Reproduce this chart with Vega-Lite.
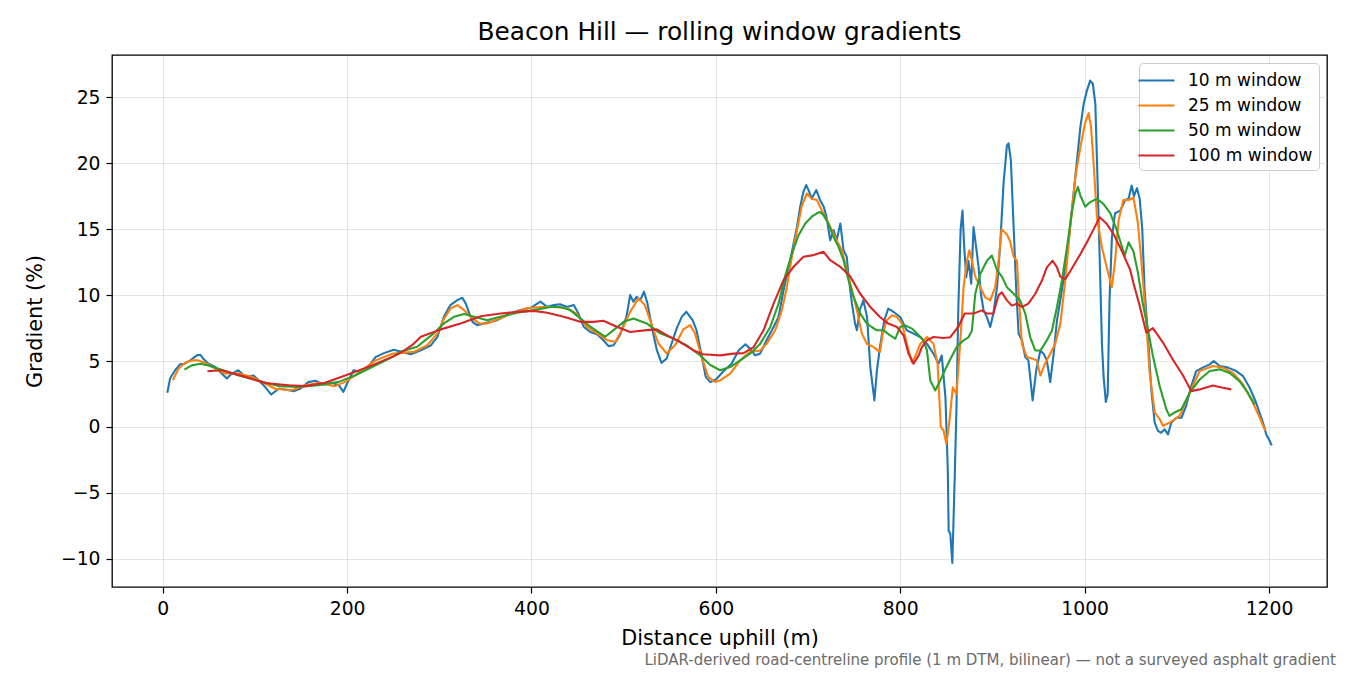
{
  "$schema": "https://vega.github.io/schema/vega-lite/v6.json",
  "width": 1215,
  "height": 532,
  "autosize": {"type": "none"},
  "padding": {"left": 112, "top": 55, "right": 23, "bottom": 88},
  "background": "white",
  "title": {
    "text": "Beacon Hill — rolling window gradients",
    "fontSize": 24.8,
    "fontWeight": "normal",
    "font": "DejaVu Sans",
    "color": "black",
    "anchor": "middle",
    "offset": 10
  },
  "config": {
    "font": "DejaVu Sans",
    "view": {"stroke": "black", "strokeWidth": 1.3},
    "axis": {
      "domain": false,
      "grid": true,
      "gridColor": "#b0b0b0",
      "gridOpacity": 0.33,
      "gridWidth": 1,
      "tickColor": "black",
      "tickSize": 6,
      "tickWidth": 1.2,
      "labelFont": "DejaVu Sans",
      "labelFontSize": 18.75,
      "labelColor": "black",
      "labelPadding": 6,
      "titleFont": "DejaVu Sans",
      "titleFontSize": 20.8,
      "titleFontWeight": "normal",
      "titleColor": "black"
    },
    "legend": {
      "labelFont": "DejaVu Sans",
      "labelFontSize": 17,
      "labelColor": "black",
      "labelLimit": 400
    }
  },
  "datasets": {
    "profiles": [
      {"d":5,"g":2.6,"w":"10 m window"},{"d":8,"g":3.67,"w":"10 m window"},{"d":13.4,"g":4.3,"w":"10 m window"},{"d":18.8,"g":4.75,"w":"10 m window"},{"d":24,"g":4.8,"w":"10 m window"},{"d":30,"g":5.05,"w":"10 m window"},{"d":37,"g":5.43,"w":"10 m window"},{"d":40.6,"g":5.48,"w":"10 m window"},{"d":44,"g":5.18,"w":"10 m window"},{"d":49.6,"g":4.8,"w":"10 m window"},{"d":57,"g":4.55,"w":"10 m window"},{"d":64,"g":4.05,"w":"10 m window"},{"d":69.6,"g":3.67,"w":"10 m window"},{"d":75,"g":4.05,"w":"10 m window"},{"d":82,"g":4.3,"w":"10 m window"},{"d":89.5,"g":3.8,"w":"10 m window"},{"d":98.5,"g":3.9,"w":"10 m window"},{"d":104,"g":3.54,"w":"10 m window"},{"d":111,"g":3.04,"w":"10 m window"},{"d":117.7,"g":2.46,"w":"10 m window"},{"d":125.7,"g":2.9,"w":"10 m window"},{"d":133,"g":2.84,"w":"10 m window"},{"d":142,"g":2.71,"w":"10 m window"},{"d":149,"g":2.9,"w":"10 m window"},{"d":158,"g":3.4,"w":"10 m window"},{"d":165.6,"g":3.5,"w":"10 m window"},{"d":174.6,"g":3.2,"w":"10 m window"},{"d":183.7,"g":3.35,"w":"10 m window"},{"d":191,"g":3.17,"w":"10 m window"},{"d":196,"g":2.66,"w":"10 m window"},{"d":200,"g":3.3,"w":"10 m window"},{"d":207,"g":4.3,"w":"10 m window"},{"d":214.5,"g":4.17,"w":"10 m window"},{"d":221.7,"g":4.42,"w":"10 m window"},{"d":230.8,"g":5.3,"w":"10 m window"},{"d":240,"g":5.6,"w":"10 m window"},{"d":250.7,"g":5.85,"w":"10 m window"},{"d":260,"g":5.68,"w":"10 m window"},{"d":269,"g":5.52,"w":"10 m window"},{"d":280,"g":5.82,"w":"10 m window"},{"d":291,"g":6.2,"w":"10 m window"},{"d":298,"g":6.84,"w":"10 m window"},{"d":305,"g":8.35,"w":"10 m window"},{"d":312,"g":9.24,"w":"10 m window"},{"d":319.6,"g":9.62,"w":"10 m window"},{"d":325,"g":9.8,"w":"10 m window"},{"d":328.6,"g":9.37,"w":"10 m window"},{"d":332,"g":8.73,"w":"10 m window"},{"d":336,"g":7.97,"w":"10 m window"},{"d":341,"g":7.72,"w":"10 m window"},{"d":348.5,"g":7.85,"w":"10 m window"},{"d":355.7,"g":7.97,"w":"10 m window"},{"d":363,"g":8.1,"w":"10 m window"},{"d":370,"g":8.35,"w":"10 m window"},{"d":377,"g":8.6,"w":"10 m window"},{"d":388,"g":8.86,"w":"10 m window"},{"d":400,"g":9.06,"w":"10 m window"},{"d":409.7,"g":9.5,"w":"10 m window"},{"d":417,"g":9.1,"w":"10 m window"},{"d":424,"g":9.24,"w":"10 m window"},{"d":431,"g":9.3,"w":"10 m window"},{"d":438.6,"g":9.1,"w":"10 m window"},{"d":445.8,"g":9.24,"w":"10 m window"},{"d":451,"g":8.6,"w":"10 m window"},{"d":456.6,"g":7.6,"w":"10 m window"},{"d":463.8,"g":7.2,"w":"10 m window"},{"d":471,"g":7.04,"w":"10 m window"},{"d":478,"g":6.58,"w":"10 m window"},{"d":483.6,"g":6.13,"w":"10 m window"},{"d":489,"g":6.2,"w":"10 m window"},{"d":496,"g":6.96,"w":"10 m window"},{"d":503,"g":8.35,"w":"10 m window"},{"d":507,"g":10,"w":"10 m window"},{"d":510.6,"g":9.5,"w":"10 m window"},{"d":514,"g":9.87,"w":"10 m window"},{"d":518,"g":9.62,"w":"10 m window"},{"d":522,"g":10.25,"w":"10 m window"},{"d":525.8,"g":9.37,"w":"10 m window"},{"d":530.5,"g":7.6,"w":"10 m window"},{"d":536,"g":5.82,"w":"10 m window"},{"d":541,"g":4.86,"w":"10 m window"},{"d":546.7,"g":5.19,"w":"10 m window"},{"d":552,"g":6.33,"w":"10 m window"},{"d":557.5,"g":7.47,"w":"10 m window"},{"d":563,"g":8.35,"w":"10 m window"},{"d":568,"g":8.73,"w":"10 m window"},{"d":574.8,"g":8.1,"w":"10 m window"},{"d":579,"g":7.34,"w":"10 m window"},{"d":584.5,"g":5.44,"w":"10 m window"},{"d":589,"g":3.8,"w":"10 m window"},{"d":594,"g":3.4,"w":"10 m window"},{"d":600,"g":3.6,"w":"10 m window"},{"d":608,"g":4.2,"w":"10 m window"},{"d":617,"g":4.8,"w":"10 m window"},{"d":624.6,"g":5.8,"w":"10 m window"},{"d":632,"g":6.27,"w":"10 m window"},{"d":637,"g":5.94,"w":"10 m window"},{"d":642.7,"g":5.43,"w":"10 m window"},{"d":648,"g":5.56,"w":"10 m window"},{"d":655,"g":6.57,"w":"10 m window"},{"d":662.6,"g":7.58,"w":"10 m window"},{"d":668,"g":8.34,"w":"10 m window"},{"d":673.4,"g":10.37,"w":"10 m window"},{"d":680.7,"g":12.65,"w":"10 m window"},{"d":688,"g":15.18,"w":"10 m window"},{"d":691.5,"g":16.7,"w":"10 m window"},{"d":695,"g":17.84,"w":"10 m window"},{"d":698,"g":18.34,"w":"10 m window"},{"d":700.5,"g":17.96,"w":"10 m window"},{"d":704,"g":17.33,"w":"10 m window"},{"d":709,"g":17.96,"w":"10 m window"},{"d":713,"g":17.2,"w":"10 m window"},{"d":717,"g":16.7,"w":"10 m window"},{"d":720,"g":15.94,"w":"10 m window"},{"d":724,"g":14.16,"w":"10 m window"},{"d":727.7,"g":14.92,"w":"10 m window"},{"d":731,"g":14.16,"w":"10 m window"},{"d":735,"g":15.43,"w":"10 m window"},{"d":738.5,"g":13.4,"w":"10 m window"},{"d":742,"g":12.9,"w":"10 m window"},{"d":744,"g":11.4,"w":"10 m window"},{"d":747.6,"g":9.35,"w":"10 m window"},{"d":751,"g":7.84,"w":"10 m window"},{"d":753,"g":7.33,"w":"10 m window"},{"d":756,"g":8.85,"w":"10 m window"},{"d":760,"g":9.6,"w":"10 m window"},{"d":764,"g":8.34,"w":"10 m window"},{"d":767.5,"g":4.54,"w":"10 m window"},{"d":772,"g":2.01,"w":"10 m window"},{"d":774.7,"g":4.3,"w":"10 m window"},{"d":778,"g":6.06,"w":"10 m window"},{"d":782.7,"g":8.09,"w":"10 m window"},{"d":787,"g":8.97,"w":"10 m window"},{"d":792.8,"g":8.72,"w":"10 m window"},{"d":800,"g":8.34,"w":"10 m window"},{"d":807,"g":7.33,"w":"10 m window"},{"d":814.5,"g":7.08,"w":"10 m window"},{"d":821.7,"g":6.82,"w":"10 m window"},{"d":829,"g":6.3,"w":"10 m window"},{"d":836,"g":5.56,"w":"10 m window"},{"d":841.6,"g":4.8,"w":"10 m window"},{"d":845,"g":5.43,"w":"10 m window"},{"d":849,"g":2.27,"w":"10 m window"},{"d":851.6,"g":-3.3,"w":"10 m window"},{"d":852.5,"g":-7.86,"w":"10 m window"},{"d":854.3,"g":-8.1,"w":"10 m window"},{"d":856.5,"g":-10.3,"w":"10 m window"},{"d":859,"g":-4,"w":"10 m window"},{"d":861,"g":1.5,"w":"10 m window"},{"d":863,"g":9,"w":"10 m window"},{"d":865.5,"g":15,"w":"10 m window"},{"d":867.5,"g":16.4,"w":"10 m window"},{"d":869.4,"g":13.6,"w":"10 m window"},{"d":871.6,"g":11.36,"w":"10 m window"},{"d":874,"g":12.6,"w":"10 m window"},{"d":877,"g":10.86,"w":"10 m window"},{"d":879.5,"g":15.15,"w":"10 m window"},{"d":882.4,"g":13.6,"w":"10 m window"},{"d":885,"g":12.1,"w":"10 m window"},{"d":887.5,"g":10.1,"w":"10 m window"},{"d":890.4,"g":8.84,"w":"10 m window"},{"d":894,"g":8.33,"w":"10 m window"},{"d":897.6,"g":7.58,"w":"10 m window"},{"d":901,"g":8.6,"w":"10 m window"},{"d":905,"g":10.6,"w":"10 m window"},{"d":908.5,"g":13.9,"w":"10 m window"},{"d":912,"g":18.43,"w":"10 m window"},{"d":915.7,"g":21.34,"w":"10 m window"},{"d":917.5,"g":21.5,"w":"10 m window"},{"d":920,"g":20.2,"w":"10 m window"},{"d":923,"g":15.15,"w":"10 m window"},{"d":926,"g":10.1,"w":"10 m window"},{"d":928.4,"g":7.07,"w":"10 m window"},{"d":932,"g":6.57,"w":"10 m window"},{"d":935.6,"g":5.3,"w":"10 m window"},{"d":939,"g":5.05,"w":"10 m window"},{"d":943.6,"g":2.02,"w":"10 m window"},{"d":947.5,"g":4.3,"w":"10 m window"},{"d":952,"g":5.8,"w":"10 m window"},{"d":955.5,"g":5.56,"w":"10 m window"},{"d":959,"g":5.05,"w":"10 m window"},{"d":962.7,"g":3.4,"w":"10 m window"},{"d":966.4,"g":5.56,"w":"10 m window"},{"d":970,"g":8.08,"w":"10 m window"},{"d":973.6,"g":9.6,"w":"10 m window"},{"d":977,"g":11.1,"w":"10 m window"},{"d":982.6,"g":14.1,"w":"10 m window"},{"d":988,"g":17.7,"w":"10 m window"},{"d":991.7,"g":20.2,"w":"10 m window"},{"d":995.3,"g":22.7,"w":"10 m window"},{"d":999,"g":24.5,"w":"10 m window"},{"d":1002.5,"g":25.5,"w":"10 m window"},{"d":1006,"g":26.26,"w":"10 m window"},{"d":1009,"g":26,"w":"10 m window"},{"d":1011.6,"g":24.5,"w":"10 m window"},{"d":1013.4,"g":20.2,"w":"10 m window"},{"d":1016,"g":13.64,"w":"10 m window"},{"d":1018.8,"g":6.3,"w":"10 m window"},{"d":1020.6,"g":3.8,"w":"10 m window"},{"d":1023,"g":1.9,"w":"10 m window"},{"d":1025,"g":2.5,"w":"10 m window"},{"d":1027,"g":9.6,"w":"10 m window"},{"d":1029.6,"g":14.4,"w":"10 m window"},{"d":1033,"g":16.2,"w":"10 m window"},{"d":1038.7,"g":16.4,"w":"10 m window"},{"d":1044,"g":17.2,"w":"10 m window"},{"d":1047.7,"g":17.3,"w":"10 m window"},{"d":1051,"g":18.3,"w":"10 m window"},{"d":1053.5,"g":17.5,"w":"10 m window"},{"d":1056.8,"g":18.1,"w":"10 m window"},{"d":1059.7,"g":17.3,"w":"10 m window"},{"d":1062.5,"g":15,"w":"10 m window"},{"d":1065,"g":10.45,"w":"10 m window"},{"d":1068.7,"g":6.9,"w":"10 m window"},{"d":1072.3,"g":2.85,"w":"10 m window"},{"d":1076,"g":0.32,"w":"10 m window"},{"d":1079.6,"g":-0.3,"w":"10 m window"},{"d":1083,"g":-0.44,"w":"10 m window"},{"d":1086.8,"g":-0.18,"w":"10 m window"},{"d":1090.4,"g":-0.56,"w":"10 m window"},{"d":1094,"g":0.32,"w":"10 m window"},{"d":1099.5,"g":0.7,"w":"10 m window"},{"d":1105,"g":0.7,"w":"10 m window"},{"d":1110,"g":1.58,"w":"10 m window"},{"d":1115.7,"g":3.1,"w":"10 m window"},{"d":1121,"g":4.24,"w":"10 m window"},{"d":1128,"g":4.5,"w":"10 m window"},{"d":1135.6,"g":4.75,"w":"10 m window"},{"d":1140,"g":5,"w":"10 m window"},{"d":1146.5,"g":4.62,"w":"10 m window"},{"d":1155.5,"g":4.5,"w":"10 m window"},{"d":1164.5,"g":4.24,"w":"10 m window"},{"d":1171.8,"g":3.86,"w":"10 m window"},{"d":1179,"g":2.98,"w":"10 m window"},{"d":1186,"g":1.84,"w":"10 m window"},{"d":1193.5,"g":0.32,"w":"10 m window"},{"d":1197,"g":-0.56,"w":"10 m window"},{"d":1200,"g":-0.95,"w":"10 m window"},{"d":1203,"g":-1.4,"w":"10 m window"},
      {"d":11,"g":3.54,"w":"25 m window"},{"d":17,"g":4.42,"w":"25 m window"},{"d":24,"g":4.85,"w":"25 m window"},{"d":31.5,"g":5.05,"w":"25 m window"},{"d":38.8,"g":5.05,"w":"25 m window"},{"d":47.8,"g":4.8,"w":"25 m window"},{"d":57,"g":4.42,"w":"25 m window"},{"d":67.7,"g":4.05,"w":"25 m window"},{"d":82,"g":4.05,"w":"25 m window"},{"d":96.7,"g":3.8,"w":"25 m window"},{"d":111,"g":3.3,"w":"25 m window"},{"d":122,"g":2.9,"w":"25 m window"},{"d":140,"g":2.79,"w":"25 m window"},{"d":154.7,"g":3.17,"w":"25 m window"},{"d":169,"g":3.34,"w":"25 m window"},{"d":187,"g":3.1,"w":"25 m window"},{"d":198,"g":3.42,"w":"25 m window"},{"d":212.7,"g":4.1,"w":"25 m window"},{"d":230.8,"g":5.05,"w":"25 m window"},{"d":249,"g":5.55,"w":"25 m window"},{"d":258,"g":5.62,"w":"25 m window"},{"d":272.8,"g":5.7,"w":"25 m window"},{"d":287,"g":6.2,"w":"25 m window"},{"d":298,"g":7.1,"w":"25 m window"},{"d":305,"g":8.2,"w":"25 m window"},{"d":312.5,"g":9,"w":"25 m window"},{"d":319.6,"g":9.24,"w":"25 m window"},{"d":327,"g":8.86,"w":"25 m window"},{"d":334,"g":8.35,"w":"25 m window"},{"d":343,"g":7.85,"w":"25 m window"},{"d":352,"g":7.85,"w":"25 m window"},{"d":363,"g":8.15,"w":"25 m window"},{"d":377,"g":8.56,"w":"25 m window"},{"d":395,"g":9,"w":"25 m window"},{"d":409.7,"g":9.1,"w":"25 m window"},{"d":424,"g":9.1,"w":"25 m window"},{"d":438.6,"g":9,"w":"25 m window"},{"d":449,"g":8.6,"w":"25 m window"},{"d":460,"g":7.6,"w":"25 m window"},{"d":471,"g":7.1,"w":"25 m window"},{"d":482,"g":6.58,"w":"25 m window"},{"d":491,"g":6.46,"w":"25 m window"},{"d":498,"g":7.34,"w":"25 m window"},{"d":507,"g":8.73,"w":"25 m window"},{"d":516,"g":9.75,"w":"25 m window"},{"d":523,"g":9.24,"w":"25 m window"},{"d":530.5,"g":7.72,"w":"25 m window"},{"d":537.7,"g":6.33,"w":"25 m window"},{"d":546.7,"g":5.57,"w":"25 m window"},{"d":555.7,"g":6.2,"w":"25 m window"},{"d":564.7,"g":7.4,"w":"25 m window"},{"d":572,"g":7.72,"w":"25 m window"},{"d":577.3,"g":7.1,"w":"25 m window"},{"d":584.5,"g":5.32,"w":"25 m window"},{"d":591.7,"g":3.8,"w":"25 m window"},{"d":599,"g":3.42,"w":"25 m window"},{"d":604.7,"g":3.53,"w":"25 m window"},{"d":615.5,"g":4.04,"w":"25 m window"},{"d":626.4,"g":5.05,"w":"25 m window"},{"d":637,"g":5.7,"w":"25 m window"},{"d":648,"g":5.8,"w":"25 m window"},{"d":655,"g":6.3,"w":"25 m window"},{"d":664.4,"g":7.33,"w":"25 m window"},{"d":671.6,"g":8.85,"w":"25 m window"},{"d":677,"g":10.6,"w":"25 m window"},{"d":682.5,"g":12.9,"w":"25 m window"},{"d":688,"g":14.9,"w":"25 m window"},{"d":693,"g":16.7,"w":"25 m window"},{"d":698.7,"g":17.7,"w":"25 m window"},{"d":704,"g":17.3,"w":"25 m window"},{"d":709.6,"g":17.2,"w":"25 m window"},{"d":715,"g":16.4,"w":"25 m window"},{"d":720.4,"g":15.7,"w":"25 m window"},{"d":726,"g":14.9,"w":"25 m window"},{"d":731,"g":14.16,"w":"25 m window"},{"d":736.7,"g":13.4,"w":"25 m window"},{"d":742,"g":11.9,"w":"25 m window"},{"d":747.6,"g":10.4,"w":"25 m window"},{"d":753,"g":8.85,"w":"25 m window"},{"d":758.4,"g":7.08,"w":"25 m window"},{"d":763.8,"g":6.3,"w":"25 m window"},{"d":771,"g":6.06,"w":"25 m window"},{"d":778,"g":5.7,"w":"25 m window"},{"d":781,"g":7.08,"w":"25 m window"},{"d":785.5,"g":8.1,"w":"25 m window"},{"d":791,"g":8.47,"w":"25 m window"},{"d":796.4,"g":8.34,"w":"25 m window"},{"d":801.8,"g":7.84,"w":"25 m window"},{"d":805.5,"g":6.82,"w":"25 m window"},{"d":809,"g":5.8,"w":"25 m window"},{"d":812.7,"g":4.9,"w":"25 m window"},{"d":816,"g":5.3,"w":"25 m window"},{"d":821.7,"g":6.3,"w":"25 m window"},{"d":829,"g":6.82,"w":"25 m window"},{"d":836,"g":6.3,"w":"25 m window"},{"d":840.5,"g":4.8,"w":"25 m window"},{"d":844,"g":0,"w":"25 m window"},{"d":847,"g":-0.27,"w":"25 m window"},{"d":850,"g":-1.28,"w":"25 m window"},{"d":853,"g":0.2,"w":"25 m window"},{"d":857,"g":3,"w":"25 m window"},{"d":861,"g":2.5,"w":"25 m window"},{"d":865,"g":6.3,"w":"25 m window"},{"d":868.7,"g":10.6,"w":"25 m window"},{"d":872.3,"g":12.6,"w":"25 m window"},{"d":875,"g":13.4,"w":"25 m window"},{"d":877.7,"g":12.6,"w":"25 m window"},{"d":881.4,"g":11.4,"w":"25 m window"},{"d":886.8,"g":10.6,"w":"25 m window"},{"d":892,"g":9.85,"w":"25 m window"},{"d":897.6,"g":9.6,"w":"25 m window"},{"d":903,"g":10.6,"w":"25 m window"},{"d":906.7,"g":12.6,"w":"25 m window"},{"d":910,"g":15,"w":"25 m window"},{"d":915.7,"g":14.6,"w":"25 m window"},{"d":919,"g":14.1,"w":"25 m window"},{"d":923,"g":12.9,"w":"25 m window"},{"d":926.6,"g":12.6,"w":"25 m window"},{"d":928.4,"g":10.1,"w":"25 m window"},{"d":932,"g":6.3,"w":"25 m window"},{"d":937.4,"g":5.3,"w":"25 m window"},{"d":943,"g":5.2,"w":"25 m window"},{"d":948,"g":5.05,"w":"25 m window"},{"d":952,"g":3.9,"w":"25 m window"},{"d":957,"g":4.8,"w":"25 m window"},{"d":962.7,"g":5.56,"w":"25 m window"},{"d":968,"g":6.3,"w":"25 m window"},{"d":973.6,"g":7.8,"w":"25 m window"},{"d":979,"g":11.1,"w":"25 m window"},{"d":984.4,"g":15.15,"w":"25 m window"},{"d":989.9,"g":18.9,"w":"25 m window"},{"d":995.3,"g":21.2,"w":"25 m window"},{"d":1000.7,"g":23.1,"w":"25 m window"},{"d":1004.3,"g":23.8,"w":"25 m window"},{"d":1007,"g":22.7,"w":"25 m window"},{"d":1009.8,"g":19.9,"w":"25 m window"},{"d":1013.4,"g":15.9,"w":"25 m window"},{"d":1018.8,"g":13.6,"w":"25 m window"},{"d":1024,"g":12.1,"w":"25 m window"},{"d":1029.6,"g":10.6,"w":"25 m window"},{"d":1033,"g":12.6,"w":"25 m window"},{"d":1036.9,"g":15.7,"w":"25 m window"},{"d":1042,"g":17.2,"w":"25 m window"},{"d":1047.7,"g":17.2,"w":"25 m window"},{"d":1053,"g":17.4,"w":"25 m window"},{"d":1057.7,"g":15.5,"w":"25 m window"},{"d":1061,"g":13,"w":"25 m window"},{"d":1066.9,"g":7.9,"w":"25 m window"},{"d":1070.5,"g":4.1,"w":"25 m window"},{"d":1076,"g":1.1,"w":"25 m window"},{"d":1081.4,"g":0.6,"w":"25 m window"},{"d":1085,"g":0.1,"w":"25 m window"},{"d":1092,"g":0.32,"w":"25 m window"},{"d":1103,"g":0.84,"w":"25 m window"},{"d":1114,"g":2.6,"w":"25 m window"},{"d":1124.8,"g":4.24,"w":"25 m window"},{"d":1139,"g":4.62,"w":"25 m window"},{"d":1150,"g":4.5,"w":"25 m window"},{"d":1161,"g":4.1,"w":"25 m window"},{"d":1172,"g":3.23,"w":"25 m window"},{"d":1182.6,"g":1.84,"w":"25 m window"},{"d":1190,"g":0.7,"w":"25 m window"},{"d":1196,"g":-0.3,"w":"25 m window"},
      {"d":23.5,"g":4.35,"w":"50 m window"},{"d":31.5,"g":4.67,"w":"50 m window"},{"d":40.6,"g":4.8,"w":"50 m window"},{"d":49.6,"g":4.67,"w":"50 m window"},{"d":60.5,"g":4.42,"w":"50 m window"},{"d":82,"g":3.92,"w":"50 m window"},{"d":104,"g":3.5,"w":"50 m window"},{"d":125.7,"g":3.1,"w":"50 m window"},{"d":147.5,"g":3.04,"w":"50 m window"},{"d":169,"g":3.17,"w":"50 m window"},{"d":191,"g":3.42,"w":"50 m window"},{"d":209,"g":3.92,"w":"50 m window"},{"d":227,"g":4.55,"w":"50 m window"},{"d":249,"g":5.3,"w":"50 m window"},{"d":258,"g":5.7,"w":"50 m window"},{"d":276,"g":6.08,"w":"50 m window"},{"d":294,"g":7.1,"w":"50 m window"},{"d":305,"g":7.85,"w":"50 m window"},{"d":316,"g":8.35,"w":"50 m window"},{"d":327,"g":8.56,"w":"50 m window"},{"d":338,"g":8.35,"w":"50 m window"},{"d":352,"g":8.1,"w":"50 m window"},{"d":366,"g":8.35,"w":"50 m window"},{"d":384.5,"g":8.66,"w":"50 m window"},{"d":402.5,"g":8.86,"w":"50 m window"},{"d":420.5,"g":9.1,"w":"50 m window"},{"d":431,"g":9.1,"w":"50 m window"},{"d":442,"g":8.86,"w":"50 m window"},{"d":453,"g":8.23,"w":"50 m window"},{"d":463.8,"g":7.6,"w":"50 m window"},{"d":474.6,"g":7.1,"w":"50 m window"},{"d":480,"g":6.84,"w":"50 m window"},{"d":489,"g":7.34,"w":"50 m window"},{"d":500,"g":7.97,"w":"50 m window"},{"d":510.6,"g":8.23,"w":"50 m window"},{"d":525,"g":7.85,"w":"50 m window"},{"d":539.5,"g":7.1,"w":"50 m window"},{"d":554,"g":6.7,"w":"50 m window"},{"d":568,"g":6.2,"w":"50 m window"},{"d":582.7,"g":5.44,"w":"50 m window"},{"d":594,"g":4.7,"w":"50 m window"},{"d":604.7,"g":4.3,"w":"50 m window"},{"d":615.5,"g":4.54,"w":"50 m window"},{"d":626.4,"g":5.05,"w":"50 m window"},{"d":637,"g":5.56,"w":"50 m window"},{"d":648,"g":6.3,"w":"50 m window"},{"d":659,"g":7.58,"w":"50 m window"},{"d":668,"g":9.35,"w":"50 m window"},{"d":675,"g":11.4,"w":"50 m window"},{"d":682.5,"g":13.15,"w":"50 m window"},{"d":689.7,"g":14.54,"w":"50 m window"},{"d":697,"g":15.43,"w":"50 m window"},{"d":704,"g":15.94,"w":"50 m window"},{"d":709.6,"g":16.2,"w":"50 m window"},{"d":713,"g":16.3,"w":"50 m window"},{"d":716.8,"g":16.06,"w":"50 m window"},{"d":722,"g":15.43,"w":"50 m window"},{"d":727.7,"g":14.4,"w":"50 m window"},{"d":733,"g":13.66,"w":"50 m window"},{"d":738.5,"g":12.65,"w":"50 m window"},{"d":744,"g":11.1,"w":"50 m window"},{"d":749.4,"g":9.86,"w":"50 m window"},{"d":756.6,"g":8.6,"w":"50 m window"},{"d":763.8,"g":7.84,"w":"50 m window"},{"d":769,"g":7.58,"w":"50 m window"},{"d":774.7,"g":7.33,"w":"50 m window"},{"d":782,"g":7.33,"w":"50 m window"},{"d":789,"g":6.95,"w":"50 m window"},{"d":794.6,"g":6.7,"w":"50 m window"},{"d":800,"g":7.58,"w":"50 m window"},{"d":805.5,"g":7.7,"w":"50 m window"},{"d":812.7,"g":7.46,"w":"50 m window"},{"d":820,"g":6.95,"w":"50 m window"},{"d":825,"g":6.57,"w":"50 m window"},{"d":829,"g":5.8,"w":"50 m window"},{"d":832.6,"g":3.53,"w":"50 m window"},{"d":838,"g":2.77,"w":"50 m window"},{"d":843.4,"g":3.53,"w":"50 m window"},{"d":849,"g":4.4,"w":"50 m window"},{"d":854,"g":5.1,"w":"50 m window"},{"d":861.5,"g":6.1,"w":"50 m window"},{"d":868.7,"g":6.57,"w":"50 m window"},{"d":874,"g":6.8,"w":"50 m window"},{"d":877.7,"g":7.3,"w":"50 m window"},{"d":881.4,"g":10.1,"w":"50 m window"},{"d":886.8,"g":11.6,"w":"50 m window"},{"d":894,"g":12.6,"w":"50 m window"},{"d":899.4,"g":13,"w":"50 m window"},{"d":904.9,"g":11.9,"w":"50 m window"},{"d":910.3,"g":11.4,"w":"50 m window"},{"d":915.7,"g":10.6,"w":"50 m window"},{"d":923,"g":10.1,"w":"50 m window"},{"d":930,"g":9.6,"w":"50 m window"},{"d":935.6,"g":8.6,"w":"50 m window"},{"d":941,"g":6.8,"w":"50 m window"},{"d":946.5,"g":5.8,"w":"50 m window"},{"d":952,"g":5.8,"w":"50 m window"},{"d":959,"g":6.57,"w":"50 m window"},{"d":964.5,"g":7.3,"w":"50 m window"},{"d":970,"g":9.1,"w":"50 m window"},{"d":975.4,"g":11.1,"w":"50 m window"},{"d":980.8,"g":13.6,"w":"50 m window"},{"d":986,"g":16.2,"w":"50 m window"},{"d":989.9,"g":17.7,"w":"50 m window"},{"d":992.8,"g":18.2,"w":"50 m window"},{"d":995.3,"g":17.55,"w":"50 m window"},{"d":1000.7,"g":16.7,"w":"50 m window"},{"d":1006,"g":17.05,"w":"50 m window"},{"d":1013.4,"g":17.3,"w":"50 m window"},{"d":1020.6,"g":16.9,"w":"50 m window"},{"d":1027.9,"g":16.2,"w":"50 m window"},{"d":1035,"g":14.9,"w":"50 m window"},{"d":1043.5,"g":13,"w":"50 m window"},{"d":1047.7,"g":14,"w":"50 m window"},{"d":1053,"g":13.3,"w":"50 m window"},{"d":1057.8,"g":11.7,"w":"50 m window"},{"d":1063,"g":9.4,"w":"50 m window"},{"d":1068.7,"g":7.4,"w":"50 m window"},{"d":1074,"g":5.4,"w":"50 m window"},{"d":1081.4,"g":3.1,"w":"50 m window"},{"d":1088.6,"g":1.34,"w":"50 m window"},{"d":1092,"g":0.84,"w":"50 m window"},{"d":1097.6,"g":1.1,"w":"50 m window"},{"d":1105,"g":1.34,"w":"50 m window"},{"d":1114,"g":2.6,"w":"50 m window"},{"d":1124.8,"g":3.6,"w":"50 m window"},{"d":1135.6,"g":4.24,"w":"50 m window"},{"d":1146.5,"g":4.37,"w":"50 m window"},{"d":1157.3,"g":4.1,"w":"50 m window"},{"d":1168,"g":3.48,"w":"50 m window"},{"d":1177,"g":2.6,"w":"50 m window"},{"d":1184.5,"g":1.7,"w":"50 m window"},
      {"d":48.5,"g":4.22,"w":"100 m window"},{"d":64,"g":4.3,"w":"100 m window"},{"d":89.5,"g":3.8,"w":"100 m window"},{"d":111,"g":3.34,"w":"100 m window"},{"d":136.6,"g":3.17,"w":"100 m window"},{"d":154.7,"g":3.1,"w":"100 m window"},{"d":176,"g":3.35,"w":"100 m window"},{"d":198,"g":3.9,"w":"100 m window"},{"d":227,"g":4.67,"w":"100 m window"},{"d":252.5,"g":5.43,"w":"100 m window"},{"d":258,"g":5.62,"w":"100 m window"},{"d":270.6,"g":6.2,"w":"100 m window"},{"d":280,"g":6.84,"w":"100 m window"},{"d":301.7,"g":7.4,"w":"100 m window"},{"d":323,"g":7.85,"w":"100 m window"},{"d":345,"g":8.4,"w":"100 m window"},{"d":366.5,"g":8.6,"w":"100 m window"},{"d":384.5,"g":8.73,"w":"100 m window"},{"d":402.5,"g":8.8,"w":"100 m window"},{"d":417,"g":8.66,"w":"100 m window"},{"d":435,"g":8.35,"w":"100 m window"},{"d":453,"g":7.97,"w":"100 m window"},{"d":467.4,"g":7.97,"w":"100 m window"},{"d":478,"g":8.05,"w":"100 m window"},{"d":492.6,"g":7.6,"w":"100 m window"},{"d":507,"g":7.2,"w":"100 m window"},{"d":525,"g":7.34,"w":"100 m window"},{"d":536,"g":7.4,"w":"100 m window"},{"d":546.7,"g":6.96,"w":"100 m window"},{"d":561,"g":6.46,"w":"100 m window"},{"d":575.5,"g":5.82,"w":"100 m window"},{"d":586,"g":5.52,"w":"100 m window"},{"d":604.7,"g":5.43,"w":"100 m window"},{"d":619,"g":5.56,"w":"100 m window"},{"d":630,"g":5.6,"w":"100 m window"},{"d":641,"g":6.06,"w":"100 m window"},{"d":651.7,"g":7.33,"w":"100 m window"},{"d":662.6,"g":9.35,"w":"100 m window"},{"d":673.4,"g":11.13,"w":"100 m window"},{"d":684.3,"g":12.14,"w":"100 m window"},{"d":695,"g":12.9,"w":"100 m window"},{"d":706,"g":13.03,"w":"100 m window"},{"d":716.8,"g":13.28,"w":"100 m window"},{"d":724,"g":12.65,"w":"100 m window"},{"d":735,"g":12.14,"w":"100 m window"},{"d":745.8,"g":11.4,"w":"100 m window"},{"d":756.6,"g":10.1,"w":"100 m window"},{"d":767.5,"g":9.1,"w":"100 m window"},{"d":778,"g":8.34,"w":"100 m window"},{"d":787,"g":7.84,"w":"100 m window"},{"d":796.4,"g":7.58,"w":"100 m window"},{"d":803.6,"g":6.95,"w":"100 m window"},{"d":809,"g":5.56,"w":"100 m window"},{"d":814.5,"g":4.8,"w":"100 m window"},{"d":820,"g":5.43,"w":"100 m window"},{"d":823.5,"g":6.06,"w":"100 m window"},{"d":829,"g":6.57,"w":"100 m window"},{"d":836,"g":6.82,"w":"100 m window"},{"d":847,"g":6.75,"w":"100 m window"},{"d":854,"g":6.8,"w":"100 m window"},{"d":863,"g":7.6,"w":"100 m window"},{"d":870,"g":8.6,"w":"100 m window"},{"d":879.5,"g":8.6,"w":"100 m window"},{"d":888.6,"g":8.84,"w":"100 m window"},{"d":894,"g":8.6,"w":"100 m window"},{"d":901,"g":8.6,"w":"100 m window"},{"d":906.7,"g":10,"w":"100 m window"},{"d":910.3,"g":10.2,"w":"100 m window"},{"d":915.7,"g":9.6,"w":"100 m window"},{"d":921,"g":9.2,"w":"100 m window"},{"d":926.6,"g":9.35,"w":"100 m window"},{"d":932,"g":9.1,"w":"100 m window"},{"d":939,"g":9.35,"w":"100 m window"},{"d":946.5,"g":10.1,"w":"100 m window"},{"d":953.7,"g":11.1,"w":"100 m window"},{"d":959,"g":12.1,"w":"100 m window"},{"d":965.3,"g":12.6,"w":"100 m window"},{"d":970,"g":12.1,"w":"100 m window"},{"d":973.6,"g":11.4,"w":"100 m window"},{"d":979,"g":11.2,"w":"100 m window"},{"d":986,"g":12,"w":"100 m window"},{"d":995.3,"g":13.1,"w":"100 m window"},{"d":1002.5,"g":14,"w":"100 m window"},{"d":1009.8,"g":15,"w":"100 m window"},{"d":1016.3,"g":15.9,"w":"100 m window"},{"d":1024,"g":15.4,"w":"100 m window"},{"d":1031.5,"g":14.6,"w":"100 m window"},{"d":1040,"g":13.4,"w":"100 m window"},{"d":1049.5,"g":11.9,"w":"100 m window"},{"d":1053,"g":10.9,"w":"100 m window"},{"d":1059.7,"g":9.2,"w":"100 m window"},{"d":1066.9,"g":7.15,"w":"100 m window"},{"d":1074,"g":7.5,"w":"100 m window"},{"d":1085,"g":6.4,"w":"100 m window"},{"d":1095.8,"g":5.1,"w":"100 m window"},{"d":1106.7,"g":3.9,"w":"100 m window"},{"d":1115.7,"g":2.72,"w":"100 m window"},{"d":1124.8,"g":2.85,"w":"100 m window"},{"d":1139,"g":3.15,"w":"100 m window"},{"d":1150,"g":2.97,"w":"100 m window"},{"d":1159,"g":2.85,"w":"100 m window"}
    ]
  },
  "layer": [
    {
      "data": {"name": "profiles"},
      "mark": {"type": "line", "strokeWidth": 2.1, "strokeJoin": "round", "strokeCap": "butt"},
      "encoding": {
        "x": {
          "field": "d",
          "type": "quantitative",
          "scale": {"domain": [-55, 1262.9], "nice": false, "zero": false},
          "axis": {"title": "Distance uphill (m)", "format": "d", "values": [0, 200, 400, 600, 800, 1000, 1200], "titlePadding": 11}
        },
        "y": {
          "field": "g",
          "type": "quantitative",
          "scale": {"domain": [-12.13, 28.2], "nice": false, "zero": false},
          "axis": {"title": "Gradient (%)", "format": "d", "values": [-10, -5, 0, 5, 10, 15, 20, 25], "titlePadding": 15}
        },
        "color": {
          "field": "w",
          "type": "nominal",
          "sort": ["10 m window", "25 m window", "50 m window", "100 m window"],
          "scale": {
            "domain": ["10 m window", "25 m window", "50 m window", "100 m window"],
            "range": ["#1f77b4", "#ff7f0e", "#2ca02c", "#d62728"]
          },
          "legend": {
            "title": null,
            "orient": "top-right",
            "offset": 8,
            "padding": 6,
            "fillColor": "white",
            "strokeColor": "#cccccc",
            "cornerRadius": 4,
            "symbolType": "M-1.8,0L1.8,0",
            "symbolStrokeWidth": 2.1,
            "symbolSize": 400,
            "rowPadding": 5,
            "labelOffset": 20
          }
        },
        "order": {"field": "d", "type": "quantitative"}
      }
    },
    {
      "data": {"values": [{"note": "LiDAR-derived road-centreline profile (1 m DTM, bilinear) — not a surveyed asphalt gradient"}]},
      "mark": {"type": "text", "align": "right", "baseline": "middle", "dx": 9, "dy": 73, "fontSize": 15, "color": "#6b6b6b", "font": "DejaVu Sans"},
      "encoding": {
        "x": {"datum": 1262.9, "type": "quantitative"},
        "y": {"datum": -12.13, "type": "quantitative"},
        "text": {"field": "note"}
      }
    }
  ]
}
